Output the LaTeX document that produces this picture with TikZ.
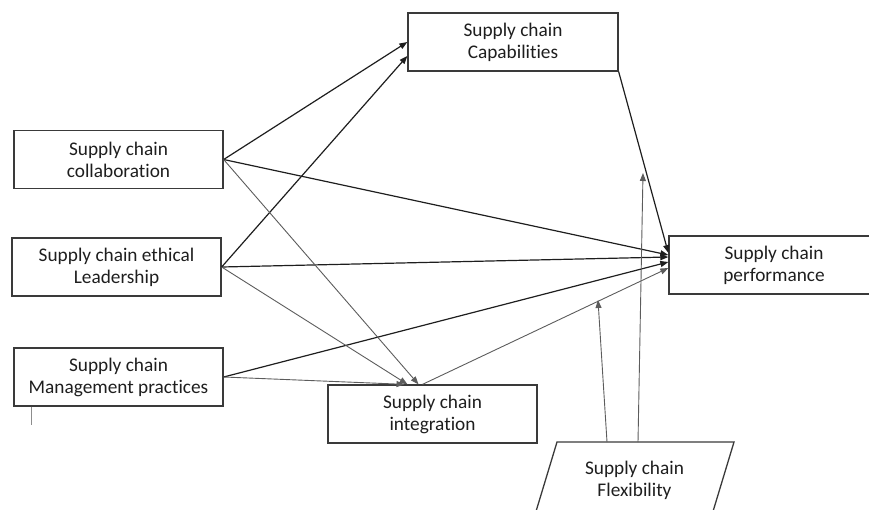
\documentclass[tikz,border=0pt]{standalone}
\usepackage{fontspec}
\setmainfont{Carlito}[Ligatures=NoCommon]
\usetikzlibrary{arrows.meta}
\definecolor{ink}{HTML}{1E1E1E}
\definecolor{frame}{HTML}{3A3A3A}
\definecolor{soft}{HTML}{5C5C5C}

\begin{document}
\begin{tikzpicture}[x=1pt,y=-1pt,
    box/.style={draw=frame,line width=1.3pt,minimum width=209pt,minimum height=58pt,
      inner sep=0pt,align=center,text=ink,font=\fontsize{19.3}{22}\selectfont},
    link/.style={-{Triangle[length=8pt,width=6pt]},line width=1.2pt,ink},
    weak/.style={-{Triangle[length=8pt,width=6pt]},line width=0.9pt,soft}]
  \useasboundingbox (0,0) rectangle (869,509);
  \clip (0,0) rectangle (869,509);

  \node[box,minimum width=210pt] (capab) at (513,42) {Supply chain\\Capabilities};
  \node[box] (collab) at (118.5,159.5) {Supply chain\\collaboration};
  \node[box] (lead) at (116.5,267) {Supply chain ethical\\Leadership};
  \node[box] (mgmt) at (118.5,377) {Supply chain\\Management practices};
  \node[box] (integ) at (432.5,414) {Supply chain\\integration};
  \node[box,minimum width=210pt] (perf) at (774,265) {Supply chain\\performance};

  % parallelogram runs past the lower edge
  \draw[frame,line width=1.3pt] (557,442) -- (734,442) -- (711,518) -- (534,518) -- cycle;
  \node[text=ink,align=center,font=\fontsize{19.3}{22}\selectfont] (flex) at (634.5,480) {Supply chain\\Flexibility};
  \coordinate (flexA) at (607,442);
  \coordinate (flexB) at (638,442);
  \coordinate (tipA) at (598,300);
  \coordinate (tipB) at (643,173);

  \draw[link] (collab.east) -- (capab.west);
  \draw[link] (lead.east) -- ([yshift=-14pt]capab.west);
  \draw[link] (collab.east) -- ([yshift=10pt]perf.west);
  \draw[link] (lead.east) -- ([yshift=8pt]perf.west);
  \draw[link] (mgmt.east) -- ([yshift=3pt]perf.west);
  \draw[link] (capab.south east) -- ([yshift=12pt]perf.west);
  \draw[weak] ([xshift=-10pt]integ.north) -- ([yshift=-3pt]perf.west);

  \draw[weak] (collab.east) -- ([xshift=-14pt]integ.north);
  \draw[weak] (lead.east) -- ([xshift=-25pt]integ.north);
  \draw[weak] (mgmt.east) -- ([xshift=-28pt]integ.north);

  \draw[weak] (flexA) -- (tipA);
  \draw[weak] (flexB) -- (tipB);

  \draw[soft!70,line width=0.8pt] ([xshift=18pt]mgmt.south west) -- ++(0,18);
\end{tikzpicture}
\end{document}
